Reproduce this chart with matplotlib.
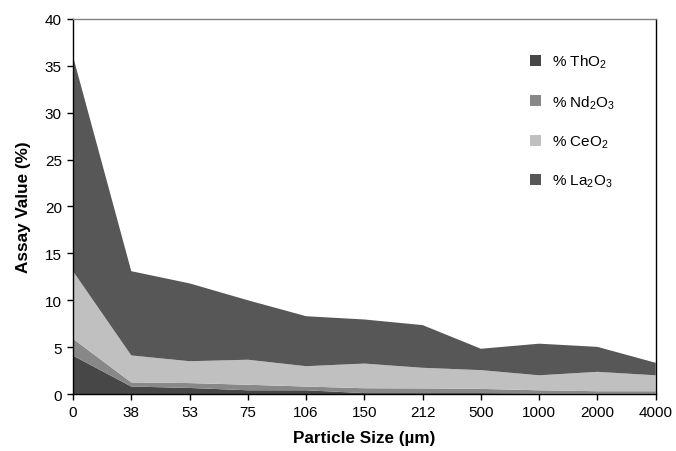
import matplotlib
matplotlib.use("Agg")
import matplotlib.pyplot as plt
from matplotlib.patches import Patch
import numpy as np

plt.rcParams['font.family'] = ['Liberation Sans', 'DejaVu Sans']
plt.rcParams['mathtext.fontset'] = 'custom'
plt.rcParams['mathtext.rm'] = 'Liberation Sans'

categories = ['0', '38', '53', '75', '106', '150', '212', '500', '1000', '2000', '4000']
tho2 = [4.1, 0.8, 0.65, 0.4, 0.4, 0.1, 0.1, 0.1, 0.05, 0.05, 0.05]
nd2o3 = [1.8, 0.44, 0.52, 0.59, 0.4, 0.52, 0.5, 0.45, 0.35, 0.25, 0.25]
ceo2 = [7.2, 2.88, 2.33, 2.67, 2.17, 2.63, 2.2, 2.0, 1.6, 2.07, 1.7]
la2o3 = [22.9, 8.98, 8.3, 6.34, 5.33, 4.7, 4.55, 2.28, 3.37, 2.66, 1.33]
series_labels = ['% ThO$_2$', '% Nd$_2$O$_3$', '% CeO$_2$', '% La$_2$O$_3$']
colors = ['#474747', '#888888', '#c0c0c0', '#575757']

fig = plt.figure(figsize=(6.76, 4.52), dpi=100)
ax = fig.add_axes([0.108, 0.126, 0.862, 0.830])

x = np.arange(len(categories))
ax.stackplot(x, tho2, nd2o3, ceo2, la2o3, colors=colors, linewidth=0)

ax.set_xlim(0, len(categories) - 1)
ax.set_ylim(0, 40)
ax.set_xticks(x)
ax.set_xticklabels(categories)
ax.set_yticks(np.arange(0, 41, 5))
ax.tick_params(axis='both', direction='out', length=4, width=1, labelsize=11, colors='black', pad=4)

ax.spines['top'].set_color('#808080')
for s in ['left', 'bottom', 'right']:
    ax.spines[s].set_color('black')
for s in ax.spines.values():
    s.set_linewidth(1)

ax.set_xlabel('Particle Size (µm)', fontsize=12.3, fontweight='bold', labelpad=8)
ax.set_ylabel('Assay Value (%)', fontsize=12.3, fontweight='bold', labelpad=10)

handles = [Patch(facecolor=c, edgecolor='none') for c in colors]
leg = fig.legend(handles, series_labels, loc='upper left', bbox_to_anchor=(0.784, 0.881),
                 bbox_transform=fig.transFigure,
                 frameon=False, fontsize=11, handlelength=0.72, handleheight=0.72,
                 labelspacing=1.48, handletextpad=0.72, borderpad=0, borderaxespad=0)

fig.savefig('out.png', dpi=100)
